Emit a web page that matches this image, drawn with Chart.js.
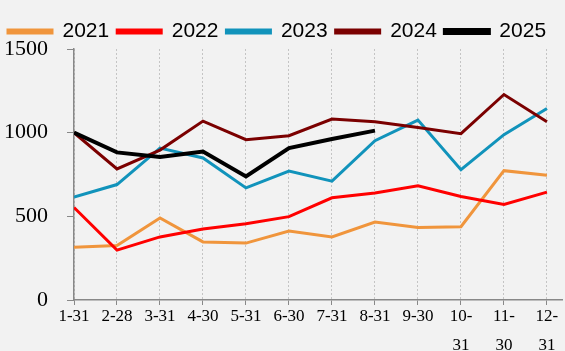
<!DOCTYPE html>
<html>
<head>
<meta charset="utf-8">
<script src="https://cdn.jsdelivr.net/npm/chart.js@4/dist/chart.umd.min.js"></script>
<style>
  html, body { margin: 0; padding: 0; background: #f2f2f2; }
  .chart-container { width: 565px; height: 351px; }
</style>
</head>
<body>
<div class="chart-container">
  <canvas id="chart" width="565" height="351"></canvas>
</div>
<script>
const xLabels = ['1-31', '2-28', '3-31', '4-30', '5-31', '6-30', '7-31', '8-31', '9-30', ['10-', '31'], ['11-', '30'], ['12-', '31']];
const yTicks = [0, 500, 1000, 1500];

const y2021 = [315, 325, 490, 347, 340, 412, 377, 466, 434, 438, 773, 746];
const y2022 = [553, 298, 377, 424, 456, 498, 611, 639, 682, 619, 571, 645];
const y2023 = [615, 690, 908, 849, 670, 771, 710, 952, 1075, 779, 988, 1144];
const y2024 = [1000, 783, 896, 1069, 958, 982, 1081, 1065, 1031, 994, 1228, 1065];
const y2025 = [1000, 882, 855, 887, 738, 908, 962, 1012];

const toPoints = arr => arr.map((y, i) => ({ x: i, y: y }));

const series = [
  { label: '2021', data: y2021, color: '#f0953c', width: 3, order: 4 },
  { label: '2022', data: y2022, color: '#ff0000', width: 3, order: 3 },
  { label: '2023', data: y2023, color: '#1193bb', width: 3, order: 2 },
  { label: '2024', data: y2024, color: '#7b0000', width: 3, order: 1 },
  { label: '2025', data: y2025, color: '#000000', width: 4, order: 0 },
];

// pull the plot area a bit closer to the legend
const tightLegend = {
  id: 'tightLegend',
  afterInit(chart) {
    const legend = chart.legend;
    const fit = legend.fit;
    legend.fit = function () {
      fit.call(this);
      this.height -= 3;
    };
  },
};

const ctx = document.getElementById('chart').getContext('2d');
new Chart(ctx, {
  type: 'line',
  data: {
    datasets: series.map(s => ({
      label: s.label,
      data: toPoints(s.data),
      borderColor: s.color,
      backgroundColor: s.color,
      borderWidth: s.width,
      pointRadius: 0,
      tension: 0,
      order: s.order,
    })),
  },
  plugins: [tightLegend],
  options: {
    responsive: false,
    animation: false,
    layout: { padding: { top: 13, right: 3, left: 0, bottom: 0 } },
    plugins: {
      tooltip: { enabled: false },
      legend: {
        position: 'top',
        align: 'start',
        labels: {
          boxWidth: 44,
          boxHeight: 3,
          padding: 8,
          color: '#000',
          font: { family: 'Liberation Sans', size: 21 },
          sort: (a, b) => a.datasetIndex - b.datasetIndex,
        },
      },
    },
    scales: {
      x: {
        type: 'linear',
        min: 0,
        max: 11.35,
        afterBuildTicks: scale => {
          scale.ticks = xLabels.map((_, i) => ({ value: i }));
        },
        afterFit: scale => { scale.height = 51; },
        ticks: {
          autoSkip: false,
          maxRotation: 0,
          padding: -2,
          color: '#000',
          font: { family: 'Liberation Serif', size: 17, lineHeight: 1.65 },
          callback: v => xLabels[v],
        },
        grid: {
          color: '#c4c4c4',
          lineWidth: 1,
          tickColor: '#888',
          tickLength: 5,
          tickBorderDash: [],
        },
        border: { color: '#888', width: 1.5, dash: [2, 2] },
      },
      y: {
        min: 0,
        max: 1500,
        afterBuildTicks: scale => {
          scale.ticks = yTicks.map(v => ({ value: v }));
        },
        afterFit: scale => { scale.width = 74; },
        ticks: {
          padding: 19,
          color: '#000',
          font: { family: 'Liberation Serif', size: 22 },
          callback: v => String(v),
        },
        grid: {
          drawOnChartArea: false,
          tickColor: '#888',
          tickLength: 7,
        },
        border: { color: '#888', width: 1.5 },
      },
    },
  },
});
</script>
</body>
</html>
